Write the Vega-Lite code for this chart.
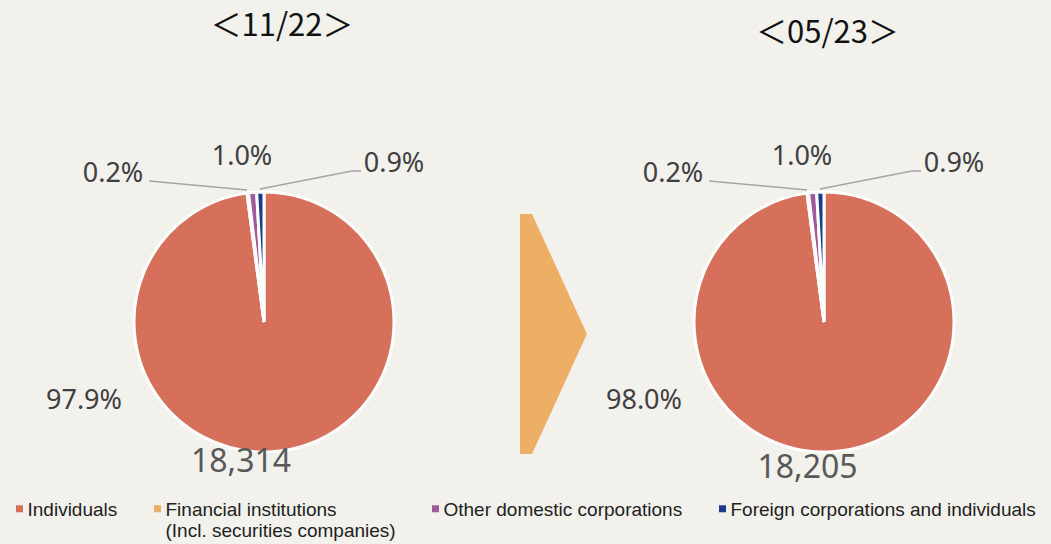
{
  "$schema": "https://vega.github.io/schema/vega-lite/v6.json",
  "width": 1051,
  "height": 444,
  "autosize": {"type": "none"},
  "padding": {"top": 100, "left": 0, "right": 0, "bottom": 0},
  "background": "#F2F1EC",
  "config": {"view": {"stroke": null}},
  "datasets": {
    "shares": [
      {"period": "11/22", "category": "Individuals", "pct": 0.979},
      {"period": "11/22", "category": "Financial institutions (Incl. securities companies)", "pct": 0.002},
      {"period": "11/22", "category": "Other domestic corporations", "pct": 0.010},
      {"period": "11/22", "category": "Foreign corporations and individuals", "pct": 0.009},
      {"period": "05/23", "category": "Individuals", "pct": 0.980},
      {"period": "05/23", "category": "Financial institutions (Incl. securities companies)", "pct": 0.002},
      {"period": "05/23", "category": "Other domestic corporations", "pct": 0.010},
      {"period": "05/23", "category": "Foreign corporations and individuals", "pct": 0.009}
    ],
    "totals": [
      {"period": "11/22", "shareholders": 18314},
      {"period": "05/23", "shareholders": 18205}
    ]
  },
  "layer": [
    {
      "data": {"name": "shares"},
      "transform": [
        {"stack": "pct", "groupby": ["period"], "offset": "normalize", "as": ["t0", "t1"]}
      ],
      "mark": {"type": "arc", "outerRadius": 130, "stroke": "white", "strokeWidth": 3},
      "encoding": {
        "x": {"field": "period", "type": "nominal", "scale": {"type": "point", "domain": ["11/22", "→", "05/23"], "range": [264, 824], "padding": 0}, "axis": null},
        "theta": {"field": "t0", "type": "quantitative", "scale": {"domain": [0, 1], "range": [0, 6.283185307]}},
        "theta2": {"field": "t1"},
        "color": {
          "field": "category",
          "type": "nominal",
          "scale": {
            "domain": ["Individuals", "Financial institutions (Incl. securities companies)", "Other domestic corporations", "Foreign corporations and individuals"],
            "range": ["#D6705A", "#EEAE64", "#9E5A9A", "#1D3B8C"]
          },
          "legend": {
            "orient": "none",
            "legendX": 10,
            "legendY": 391,
            "direction": "horizontal",
            "title": null,
            "padding": 0,
            "symbolType": "M-1,1.29H1V3.29H-1Z",
            "symbolSize": 49,
            "symbolStrokeWidth": 0,
            "labelFont": "Liberation Sans",
            "labelFontSize": 19,
            "labelColor": "#222222",
            "labelOffset": -1.5,
            "labelLimit": 400,
            "columnPadding": 30,
            "labelBaseline": "top",
            "labelExpr": "datum.label == 'Financial institutions (Incl. securities companies)' ? ['Financial institutions', '(Incl. securities companies)'] : [datum.label, ' ']"
          }
        }
      }
    },
    {
      "data": {"values": [{}]},
      "mark": {"type": "point", "shape": "M-0.2,-1L-0.1,-1L0.358,0L-0.1,1L-0.2,1Z", "size": 57600, "filled": true, "color": "#EDAF66", "opacity": 1, "strokeWidth": 0, "yOffset": 12},
      "encoding": {
        "x": {"datum": "→", "type": "nominal", "axis": null}
      }
    },
    {
      "data": {"name": "totals"},
      "mark": {"type": "rule", "xOffset": -115, "x2Offset": -17, "yOffset": -141, "y2Offset": -132, "color": "#A5A5A5", "strokeWidth": 1.5},
      "encoding": {
        "x": {"field": "period", "type": "nominal", "axis": null},
        "x2": {"field": "period"},
        "y": {"datum": 0, "type": "quantitative", "scale": {"domain": [-1, 1]}, "axis": null},
        "y2": {"datum": 0}
      }
    },
    {
      "data": {"name": "totals"},
      "mark": {"type": "rule", "xOffset": -4, "x2Offset": 88, "yOffset": -133, "y2Offset": -151, "color": "#A5A5A5", "strokeWidth": 1.5},
      "encoding": {
        "x": {"field": "period", "type": "nominal", "axis": null},
        "x2": {"field": "period"},
        "y": {"datum": 0, "type": "quantitative", "axis": null},
        "y2": {"datum": 0}
      }
    },
    {
      "data": {"name": "totals"},
      "mark": {"type": "rule", "xOffset": 88, "x2Offset": 97, "yOffset": -151, "y2Offset": -151, "color": "#A5A5A5", "strokeWidth": 1.5},
      "encoding": {
        "x": {"field": "period", "type": "nominal", "axis": null},
        "x2": {"field": "period"},
        "y": {"datum": 0, "type": "quantitative", "axis": null},
        "y2": {"datum": 0}
      }
    },
    {
      "data": {"name": "shares"},
      "transform": [{"filter": "datum.category == 'Individuals'"}],
      "mark": {"type": "text", "dx": -180, "dy": 79, "font": "Noto Sans", "fontSize": 27, "color": "#404040"},
      "encoding": {
        "x": {"field": "period", "type": "nominal", "axis": null},
        "text": {"field": "pct", "type": "quantitative", "format": ".1%"}
      }
    },
    {
      "data": {"name": "shares"},
      "transform": [{"filter": "datum.category == 'Financial institutions (Incl. securities companies)'"}],
      "mark": {"type": "text", "dx": -151, "dy": -148, "font": "Noto Sans", "fontSize": 27, "color": "#404040"},
      "encoding": {
        "x": {"field": "period", "type": "nominal", "axis": null},
        "text": {"field": "pct", "type": "quantitative", "format": ".1%"}
      }
    },
    {
      "data": {"name": "shares"},
      "transform": [{"filter": "datum.category == 'Other domestic corporations'"}],
      "mark": {"type": "text", "dx": -22, "dy": -165, "font": "Noto Sans", "fontSize": 27, "color": "#404040"},
      "encoding": {
        "x": {"field": "period", "type": "nominal", "axis": null},
        "text": {"field": "pct", "type": "quantitative", "format": ".1%"}
      }
    },
    {
      "data": {"name": "shares"},
      "transform": [{"filter": "datum.category == 'Foreign corporations and individuals'"}],
      "mark": {"type": "text", "dx": 130, "dy": -158, "font": "Noto Sans", "fontSize": 27, "color": "#404040"},
      "encoding": {
        "x": {"field": "period", "type": "nominal", "axis": null},
        "text": {"field": "pct", "type": "quantitative", "format": ".1%"}
      }
    },
    {
      "data": {"name": "totals"},
      "transform": [{"filter": "datum.period == '11/22'"}, {"calculate": "'＜' + datum.period + '＞'", "as": "title"}],
      "mark": {"type": "text", "dx": 18, "dy": -295, "font": "Noto Sans CJK JP", "fontSize": 31, "color": "#111111"},
      "encoding": {
        "x": {"field": "period", "type": "nominal", "axis": null},
        "text": {"field": "title", "type": "nominal"}
      }
    },
    {
      "data": {"name": "totals"},
      "transform": [{"filter": "datum.period == '05/23'"}, {"calculate": "'＜' + datum.period + '＞'", "as": "title"}],
      "mark": {"type": "text", "dx": 3.5, "dy": -288.5, "font": "Noto Sans CJK JP", "fontSize": 31, "color": "#111111"},
      "encoding": {
        "x": {"field": "period", "type": "nominal", "axis": null},
        "text": {"field": "title", "type": "nominal"}
      }
    },
    {
      "data": {"name": "totals"},
      "transform": [{"filter": "datum.period == '11/22'"}],
      "mark": {"type": "text", "dx": -23, "dy": 140, "font": "Noto Sans", "fontSize": 32, "color": "#595959"},
      "encoding": {
        "x": {"field": "period", "type": "nominal", "axis": null},
        "text": {"field": "shareholders", "type": "quantitative", "format": ","}
      }
    },
    {
      "data": {"name": "totals"},
      "transform": [{"filter": "datum.period == '05/23'"}],
      "mark": {"type": "text", "dx": -16.5, "dy": 146, "font": "Noto Sans", "fontSize": 32, "color": "#595959"},
      "encoding": {
        "x": {"field": "period", "type": "nominal", "axis": null},
        "text": {"field": "shareholders", "type": "quantitative", "format": ","}
      }
    }
  ]
}
